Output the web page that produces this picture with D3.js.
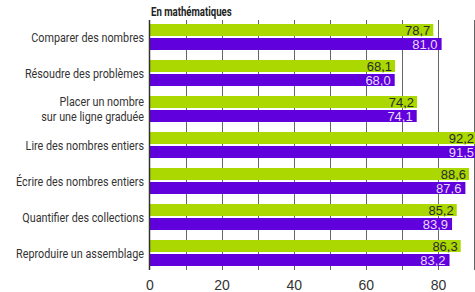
<!DOCTYPE html>
<html><head><meta charset="utf-8">
<script src="https://cdn.jsdelivr.net/npm/d3@7"></script>
<style>body{margin:0;background:#fff}svg{display:block}</style>
</head><body>
<script>
const categories = ["Comparer des nombres","Résoudre des problèmes","Placer un nombre\nsur une ligne graduée","Lire des nombres entiers","Écrire des nombres entiers","Quantifier des collections","Reproduire un assemblage"];
const seriesA = [78.7, 68.1, 74.2, 92.2, 88.6, 85.2, 86.3];
const seriesB = [81.0, 68.0, 74.1, 91.5, 87.6, 83.9, 83.2];
const xTicks = [0, 20, 40, 60, 80];
const gridValues = [0, 10, 20, 30, 40, 50, 60, 70, 80, 90];
const title = "En mathématiques";

const W = 475, H = 292;
const svg = d3.select("body").append("svg").attr("width", W).attr("height", H);
const x = d3.scaleLinear().domain([0, 100]).range([149.5, 510.1]);
const y = d3.scaleBand().domain(categories).range([19, 271]).paddingInner(0).paddingOuter(0);
const fmt = v => d3.format(".1f")(v).replace(".", ",");
const cond = "Roboto, Arial, sans-serif";

// gridlines
svg.append("g").selectAll("line").data(gridValues.filter(d => d > 0)).join("line")
  .attr("x1", d => Math.round(x(d)) + 0.5).attr("x2", d => Math.round(x(d)) + 0.5)
  .attr("y1", 20).attr("y2", 270).attr("stroke", "#666").attr("stroke-width", 1);

const barH = 12;
const g = svg.append("g");
categories.forEach((c, i) => {
  const top = y(c) + 5;
  g.append("rect").attr("x", x(0)).attr("y", top).attr("width", x(seriesA[i]) - x(0)).attr("height", barH).attr("fill", "#aad800");
  g.append("rect").attr("x", x(0)).attr("y", top + barH + 2).attr("width", x(seriesB[i]) - x(0)).attr("height", barH).attr("fill", "#6000dc");
  g.append("text").attr("x", Math.min(x(seriesA[i]) - 3, 474)).attr("y", top + barH / 2).attr("dy", "0.36em")
    .attr("text-anchor", "end").attr("font-family", "Liberation Sans, Arial, sans-serif").attr("font-size", 13)
    .attr("fill", "#2a2a2a").text(fmt(seriesA[i]));
  g.append("text").attr("x", Math.min(x(seriesB[i]) - 4, 474)).attr("y", top + barH + 2 + barH / 2).attr("dy", "0.36em")
    .attr("text-anchor", "end").attr("font-family", "Liberation Sans, Arial, sans-serif").attr("font-size", 13)
    .attr("fill", "#e6dcff").text(fmt(seriesB[i]));
});

// axis line at 0
svg.append("line").attr("x1", x(0)).attr("x2", x(0)).attr("y1", 20).attr("y2", 270)
  .attr("stroke", "#333").attr("stroke-width", 1.5);

// category labels (horizontally condensed)
const lab = svg.append("g").attr("transform", "translate(144,0) scale(0.8,1)");
categories.forEach(c => {
  const lines = c.split("\n");
  const cy = y(c) + y.bandwidth() / 2;
  const t = lab.append("text").attr("text-anchor", "end").attr("font-family", cond).attr("font-size", 13.5).attr("fill", "#333");
  lines.forEach((l, k) => {
    t.append("tspan").attr("x", 0).attr("y", cy + (k - (lines.length - 1) / 2) * 15).attr("dy", "0.35em").text(l);
  });
});

// x axis tick labels
const axis = d3.axisBottom(x).tickValues(xTicks).tickSize(0).tickPadding(0).tickFormat(d => d);
const ax = svg.append("g").attr("transform", "translate(0,280)").call(axis);
ax.select(".domain").remove();
ax.selectAll("text").attr("font-family", "Liberation Sans, Arial, sans-serif").attr("font-size", 14).attr("fill", "#333").attr("dy", "0.71em");

// title
svg.append("g").attr("transform", "translate(151,16) scale(0.77,1)")
  .append("text").attr("x", 0).attr("y", 0).attr("font-family", cond).attr("font-weight", "bold")
  .attr("font-size", 12.5).attr("fill", "#222").text(title);
</script>
</body></html>
